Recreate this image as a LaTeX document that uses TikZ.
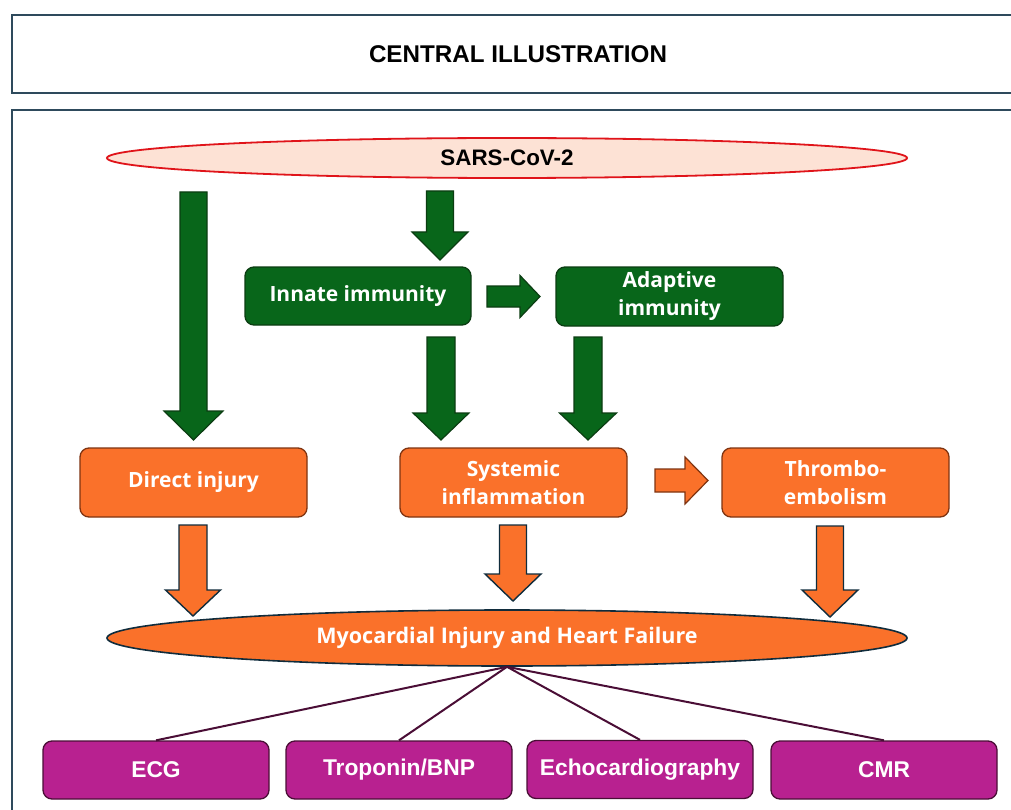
\documentclass[tikz,border=0pt]{standalone}
\usepackage{fontspec}
\setmainfont{Liberation Sans}
\newfontfamily\boxfont{Open Sans}
\usetikzlibrary{shapes.geometric}
\definecolor{frame}{HTML}{2E4A5C}
\definecolor{gfill}{HTML}{08661A}
\definecolor{gline}{HTML}{0B3D12}
\definecolor{ofill}{HTML}{FA712A}
\definecolor{oline}{HTML}{7F3411}
\definecolor{onavy}{HTML}{102C3C}
\definecolor{pfill}{HTML}{B82190}
\definecolor{pline}{HTML}{4A0E36}
\definecolor{peach}{HTML}{FDE2D5}
\definecolor{sred}{HTML}{E0141A}
\newcommand\blockdown[7]{\draw[#1] ({#2-#6},#3) -- ({#2+#6},#3) -- ({#2+#6},#4) -- ({#2+#7},#4) -- (#2,#5) -- ({#2-#7},#4) -- ({#2-#6},#4) -- cycle;}
\newcommand\blockright[7]{\draw[#1] (#3,{#2-#6}) -- (#3,{#2+#6}) -- (#4,{#2+#6}) -- (#4,{#2+#7}) -- (#5,#2) -- (#4,{#2-#7}) -- (#4,{#2-#6}) -- cycle;}
\begin{document}
\begin{tikzpicture}[x=1pt,y=-1pt,
  garrow/.style={fill=gfill,draw=gline,line width=1.2pt,line join=miter},
  oarrow/.style={fill=ofill,draw=onavy,line width=1.4pt,line join=miter},
  oarrowb/.style={fill=ofill,draw=oline,line width=1.2pt,line join=miter},
  gbox/.style={draw=gline,fill=gfill,line width=1.3pt,rounded corners=9pt,minimum width=226pt,minimum height=58pt,inner sep=0pt,text=white,align=center,font=\boxfont\bfseries\fontsize{21}{28}\selectfont},
  obox/.style={gbox,draw=oline,fill=ofill,minimum height=69pt},
  pbox/.style={draw=pline,fill=pfill,line width=1.3pt,rounded corners=9pt,minimum width=226pt,minimum height=58pt,inner sep=0pt,text=white,font=\bfseries\fontsize{22.8}{26}\selectfont},
  link/.style={draw=pline,line width=2pt},
]
\useasboundingbox (0,0) rectangle (1011,810);
\clip (0,0) rectangle (1011,810);
\fill[white] (0,0) rectangle (1011,810);
% frames
\node[draw=frame,line width=1.6pt,minimum width=1018pt,minimum height=78pt,inner sep=0pt] (titlebox) at (521,54) {};
\node[font=\bfseries\fontsize{24.2}{28}\selectfont] (title) at (518,54) {CENTRAL ILLUSTRATION};
\draw[frame,line width=1.6pt] (1030,110) -- (12,110) -- (12,830);
% top ellipse
\node[ellipse,draw=sred,fill=peach,line width=1.8pt,minimum width=800pt,minimum height=40pt,inner sep=0pt,font=\bfseries\fontsize{22.4}{26}\selectfont] (sars) at (507,158) {SARS-CoV-2};
% green boxes
\node[gbox] (innate) at (358,296) {Innate immunity};
\node[gbox,minimum width=227pt,minimum height=59pt] (adaptive) at (669.5,296.5) {Adaptive\\immunity};
% orange boxes
\node[obox,minimum width=227pt] (direct) at (193.5,482.5) {Direct injury};
\node[obox,minimum width=227pt] (systemic) at (513.5,482.5) {Systemic\\inflammation};
\node[obox,minimum width=227pt] (thrombo) at (835.5,482.5) {Thrombo-\\embolism};
% myocardial ellipse
\node[ellipse,draw=onavy,fill=ofill,line width=1.6pt,minimum width=800pt,minimum height=56pt,inner sep=0pt,text=white,font=\boxfont\bfseries\fontsize{21.5}{24}\selectfont] (myo) at (507,638) {Myocardial Injury and Heart Failure};
% purple boxes
\node[pbox] (ecg) at (156,770) {ECG};
\node[pbox] (trop) at (399,770) {Troponin/BNP};
\node[pbox] (echo) at (640,769.5) {Echocardiography};
\node[pbox] (cmr) at (884,770) {CMR};
% green block arrows
\blockdown{garrow}{193.5}{192}{411}{440}{13.5}{29.5}
\blockdown{garrow}{440}{191}{232}{260}{13.5}{28}
\blockdown{garrow}{441}{337}{413}{440}{14}{28}
\blockdown{garrow}{588}{337}{413}{440}{14}{28.5}
\blockright{garrow}{296.5}{487}{520}{540}{10.5}{21}
% orange block arrows
\blockdown{oarrow}{193}{525}{590}{616}{14}{27.5}
\blockdown{oarrow}{513}{525}{574}{601}{13.5}{28}
\blockdown{oarrow}{830}{526}{590}{617}{13.5}{28}
\blockright{oarrowb}{480.5}{655}{685}{708}{11.5}{23.5}
% links
\coordinate (hub) at (myo.south);
\draw[link] (hub) -- (ecg.north);
\draw[link] (hub) -- (trop.north);
\draw[link] (hub) -- (echo.north);
\draw[link] (hub) -- (cmr.north);
\end{tikzpicture}
\end{document}
